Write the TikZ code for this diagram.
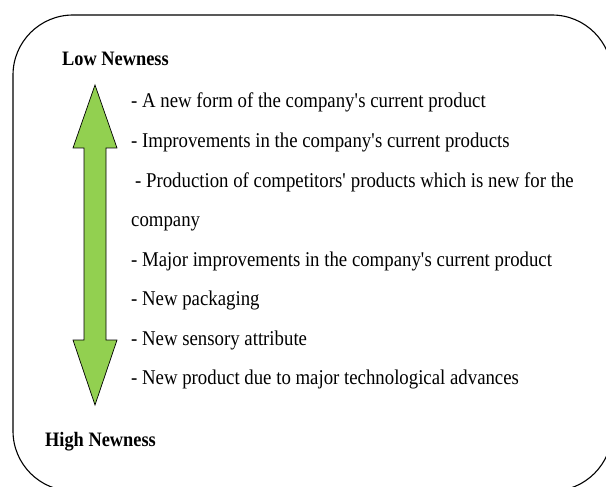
\documentclass[tikz,border=0pt]{standalone}
\usepackage{fontspec}
\setmainfont[FakeStretch=0.895]{Liberation Serif}
\newcommand{\sq}{\textquotesingle}
\begin{document}
\begin{tikzpicture}[x=1pt,y=-1pt,
  item/.style={anchor=base west,inner sep=0pt,font=\fontsize{21}{25}\selectfont},
  head/.style={anchor=base west,inner sep=0pt,font=\fontsize{20.5}{24}\selectfont\bfseries},
  frame/.style={draw=black,line width=1.1pt,rounded corners=60pt},
  garrow/.style={draw=black,line width=0.7pt,fill=arrowgreen,line join=miter}]
\definecolor{arrowgreen}{HTML}{92D050}
\useasboundingbox (0,0) rectangle (606,487);
\clip (0,0) rectangle (606,487);
\fill[white] (0,0) rectangle (606,487);
\draw[frame] (13,15) rectangle (612,491);
% double arrow
\draw[garrow] (95,85) -- (117,148) -- (106,148) -- (106,340) -- (117,340)
  -- (95,405) -- (73,340) -- (84,340) -- (84,148) -- (73,148) -- cycle;
\node[head] (low) at (62,66) {Low Newness};
\node[head] (high) at (45,446) {High Newness};
\node[item] (i1) at (131,108) {- A new form of the company\sq s current product};
\node[item] (i2) at (131,147.5) {- Improvements in the company\sq s current products};
\node[item] (i3) at (135,187) {- Production of competitors\sq\ products which is new for the};
\node[item] (i4) at (131,226.5) {company};
\node[item] (i5) at (131,266) {- Major improvements in the company\sq s current product};
\node[item] (i6) at (131,305.5) {- New packaging};
\node[item] (i7) at (131,345) {- New sensory attribute};
\node[item] (i8) at (131,384.5) {- New product due to major technological advances};
\end{tikzpicture}
\end{document}
